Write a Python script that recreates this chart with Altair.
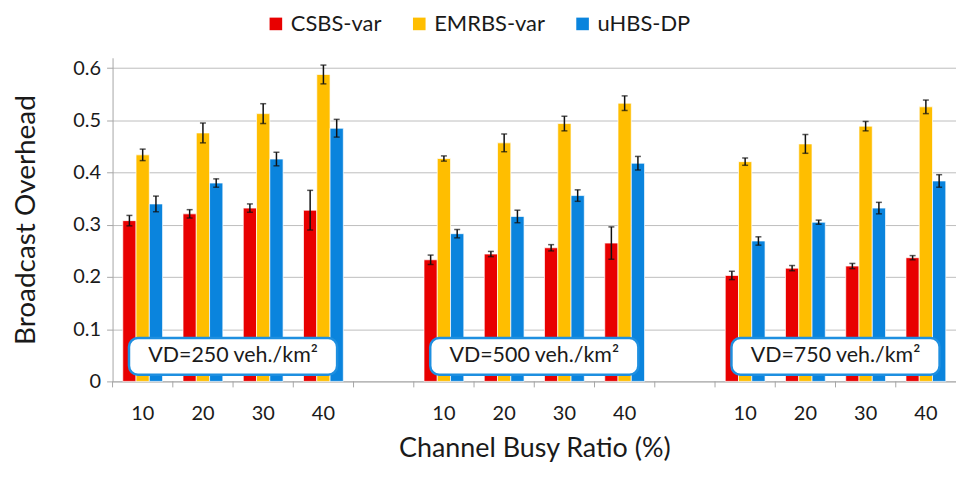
import altair as alt
import pandas as pd

series = ["CSBS-var", "EMRBS-var", "uHBS-DP"]
colors = ["#E80000", "#FFBE00", "#0A84DD"]
groups = ["250", "500", "750"]
ratios = ["10", "20", "30", "40"]

csbs = [0.308, 0.321, 0.332, 0.328, 0.233, 0.244, 0.256, 0.265, 0.203, 0.217, 0.221, 0.237]
csbs_err = [0.010, 0.008, 0.008, 0.038, 0.009, 0.005, 0.006, 0.031, 0.008, 0.005, 0.005, 0.004]
emrbs = [0.434, 0.476, 0.513, 0.588, 0.427, 0.457, 0.494, 0.533, 0.421, 0.455, 0.489, 0.526]
emrbs_err = [0.011, 0.019, 0.019, 0.018, 0.005, 0.017, 0.014, 0.014, 0.007, 0.018, 0.009, 0.013]
uhbs = [0.340, 0.380, 0.426, 0.485, 0.283, 0.316, 0.356, 0.418, 0.269, 0.305, 0.332, 0.384]
uhbs_err = [0.015, 0.008, 0.013, 0.017, 0.008, 0.012, 0.011, 0.013, 0.008, 0.004, 0.011, 0.012]

box_labels = ["VD=250 veh./km²", "VD=500 veh./km²", "VD=750 veh./km²"]

cats = []
for gi, g in enumerate(groups):
    for r in ratios:
        cats.append(f"{g}|{r}")
    if gi < len(groups) - 1:
        cats.append(f"gap{gi}")

rows = []
vals = [csbs, emrbs, uhbs]
errs = [csbs_err, emrbs_err, uhbs_err]
for si, s in enumerate(series):
    k = 0
    for g in groups:
        for r in ratios:
            v = vals[si][k]
            e = errs[si][k]
            rows.append({"cat": f"{g}|{r}", "series": s, "value": v, "lo": v - e, "hi": v + e})
            k += 1
df = pd.DataFrame(rows)

box_df = pd.DataFrame({
    "label": box_labels,
    "cat": [f"{g}|30" for g in groups],
    "ym": [0.048] * 3,
})

FONT = "Lato"
TXT = "#1a1a1a"

x_scale = alt.Scale(domain=cats, paddingInner=0, paddingOuter=0)
x_enc = alt.X("cat:N", sort=cats, scale=x_scale,
              axis=alt.Axis(title="Channel Busy Ratio (%)", labelAngle=0,
                            labelExpr="indexof(datum.value, 'gap') >= 0 ? '' : slice(datum.value, 4)",
                            labelFontSize=20, labelPadding=22, tickSize=0,
                            domainColor="#A6A6A6", titleFontSize=27, titleFontWeight="normal",
                            titlePadding=12, titleColor=TXT, labelColor=TXT))
xoff = alt.XOffset("series:N", sort=series, scale=alt.Scale(domain=series, paddingInner=0, paddingOuter=0.77))
y_scale = alt.Scale(domain=[0, 0.62], nice=False)
y_enc = alt.Y("value:Q", scale=y_scale,
              axis=alt.Axis(title="Broadcast Overhead", values=[0, 0.1, 0.2, 0.3, 0.4, 0.5, 0.6],
                            format=".1~f",
                            labelFontSize=20, labelPadding=6, tickSize=6, tickColor="#A6A6A6",
                            domainColor="#A6A6A6", gridColor="#BDBDBD", gridWidth=1,
                            titleFontSize=28, titleFontWeight="normal", titlePadding=32,
                            titleColor=TXT, labelColor=TXT))

bars = alt.Chart(df).mark_bar(stroke="#ffffff", strokeWidth=1, strokeOpacity=0.7).encode(
    x=x_enc,
    xOffset=xoff,
    y=y_enc,
    color=alt.Color("series:N", sort=series, scale=alt.Scale(domain=series, range=colors),
                    legend=alt.Legend(title=None, orient="none", direction="horizontal",
                                      legendX=153, legendY=-45, labelFontSize=22,
                                      labelColor=TXT, symbolType="square", gridAlign="none",
                                      symbolSize=160, symbolStrokeWidth=0, symbolOpacity=1,
                                      columnPadding=26, labelOffset=4)),
)

# tick marks on the x axis at category boundaries
xticks = alt.Chart(pd.DataFrame({"cat": cats})).mark_rule(color="#A6A6A6", strokeWidth=1).encode(
    x=alt.X("cat:N", sort=cats, bandPosition=0),
    y=alt.value(325), y2=alt.value(331))

rules = alt.Chart(df).mark_rule(color="#111", strokeWidth=1.5).encode(
    x=alt.X("cat:N", sort=cats), xOffset=alt.XOffset("series:N", sort=series),
    y=alt.Y("lo:Q", scale=y_scale), y2="hi:Q")
cap_lo = alt.Chart(df).mark_tick(color="#111", thickness=1.5, size=6).encode(
    x=alt.X("cat:N", sort=cats), xOffset=alt.XOffset("series:N", sort=series),
    y=alt.Y("lo:Q", scale=y_scale))
cap_hi = alt.Chart(df).mark_tick(color="#111", thickness=1.5, size=6).encode(
    x=alt.X("cat:N", sort=cats), xOffset=alt.XOffset("series:N", sort=series),
    y=alt.Y("hi:Q", scale=y_scale))

box_path = ("M-1.91,-0.37H1.91A0.18,0.18 0 0 1 2.09,-0.19V0.19A0.18,0.18 0 0 1 1.91,0.37"
            "H-1.91A0.18,0.18 0 0 1 -2.09,0.19V-0.19A0.18,0.18 0 0 1 -1.91,-0.37Z")
boxes = alt.Chart(box_df).mark_point(shape=box_path, size=10000, filled=True, fill="white",
                                     stroke="#1E8FE0", strokeWidth=2.5, opacity=1).encode(
    x=alt.X("cat:N", sort=cats, bandPosition=0),
    y=alt.Y("ym:Q", scale=y_scale))
texts = alt.Chart(box_df).mark_text(fontSize=21.5, color=TXT, font=FONT).encode(
    x=alt.X("cat:N", sort=cats, bandPosition=0),
    y=alt.Y("ym:Q", scale=y_scale), text="label:N")

chart = alt.layer(bars, xticks, rules, cap_lo, cap_hi, boxes, texts).properties(
    width=847, height=325,
    autosize=alt.AutoSizeParams(type="none"),
    padding={"left": 105, "top": 49, "right": 0, "bottom": 90},
).configure(font=FONT).configure_view(stroke=None)

chart.save("out.html", embed_options={"renderer": "svg", "actions": False})
